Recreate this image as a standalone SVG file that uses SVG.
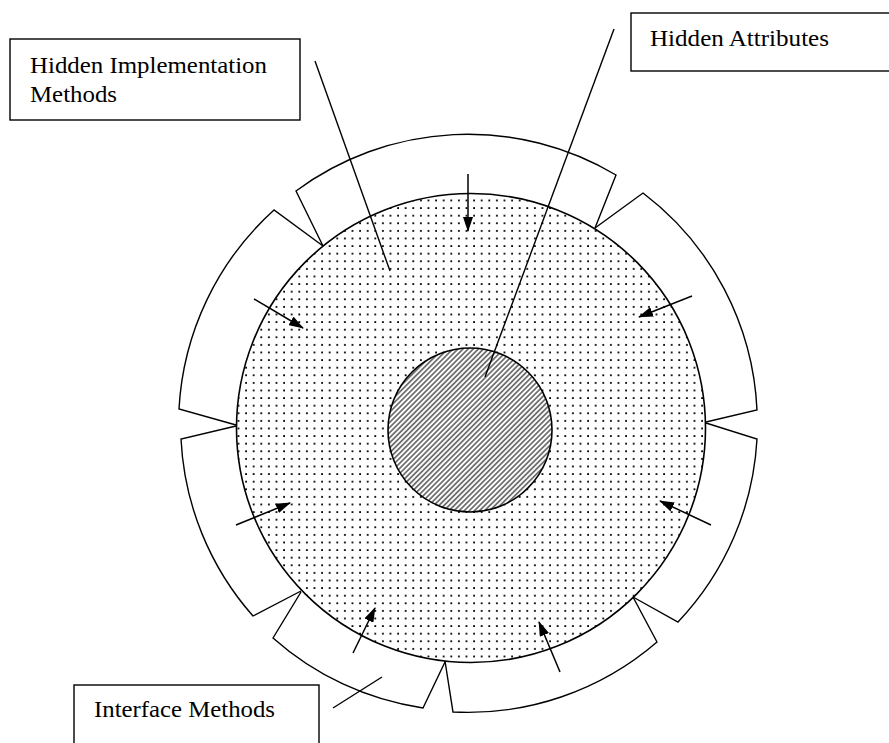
<svg xmlns="http://www.w3.org/2000/svg" width="889" height="743" viewBox="0 0 889 743">
  <style>
    .ln { fill: none; stroke: #000; stroke-width: 1.4; stroke-linejoin: miter; }
    .box { fill: #fff; stroke: #000; stroke-width: 1.4; }
    .lbl { font-family: "Liberation Serif", "Times New Roman", serif; font-size: 23.5px; fill: #000; }
    .arrow { stroke: #000; stroke-width: 1.5; fill: none; marker-end: url(#head); }
  </style>
  <defs>
    <!-- fine dot screen for the implementation ring -->
    <pattern id="dots" patternUnits="userSpaceOnUse" width="7.6" height="7.6">
      <rect x="2" y="2" width="1.8" height="1.8" fill="#000"/>
    </pattern>
    <!-- diagonal hatching for the attribute core -->
    <pattern id="hatch" patternUnits="userSpaceOnUse" width="3.6" height="3.6" patternTransform="rotate(45)">
      <rect width="3.6" height="3.6" fill="#fff"/>
      <line x1="1.8" y1="0" x2="1.8" y2="3.6" stroke="#000" stroke-width="1"/>
    </pattern>
    <marker id="head" viewBox="0 0 15 10" refX="14" refY="5" markerWidth="15" markerHeight="10" markerUnits="userSpaceOnUse" orient="auto">
      <path d="M0,0 L15,5 L0,10 Z" fill="#000"/>
    </marker>
  </defs>

  <rect width="889" height="743" fill="#fff"/>

  <!-- interface method segments around the object -->
  <g id="segments">
    <path id="seg-top" class="ln" d="M323,246 L296,191 A289,289 0 0 1 616,175 L595,228"/>
    <path id="seg-top-right" class="ln" d="M595,228 L643,193 A289,289 0 0 1 757,410 L706,422"/>
    <path id="seg-right" class="ln" d="M706,423 L757,439 A289,289 0 0 1 678,622 L633,597"/>
    <path id="seg-bottom-right" class="ln" d="M633,597 L657,642 A289,289 0 0 1 453,712 L445,661"/>
    <path id="seg-bottom-left" class="ln" d="M445,662 L423,708 A289,289 0 0 1 273,638 L301,592"/>
    <path id="seg-left-bottom" class="ln" d="M301,591 L253,616 A289,289 0 0 1 181,439 L236,426"/>
    <path id="seg-left-top" class="ln" d="M236,425 L179,409 A289,289 0 0 1 274,210 L323,246"/>
  </g>

  <!-- hidden implementation ring -->
  <g id="implementation">
    <circle cx="471" cy="428" r="234.5" fill="url(#dots)" stroke="#000" stroke-width="1.6"/>
  </g>

  <!-- hidden attribute core -->
  <g id="attributes">
    <circle cx="470" cy="430" r="82" fill="url(#hatch)" stroke="#000" stroke-width="1.6"/>
  </g>

  <!-- labels -->
  <g id="label-implementation">
    <rect class="box" x="10" y="39" width="290" height="81"/>
    <text class="lbl" x="30" y="73" textLength="237" lengthAdjust="spacingAndGlyphs">Hidden Implementation</text>
    <text class="lbl" x="30" y="102" textLength="87" lengthAdjust="spacingAndGlyphs">Methods</text>
  </g>
  <g id="label-attributes">
    <rect class="box" x="631" y="13" width="270" height="58"/>
    <text class="lbl" x="650" y="46" textLength="179" lengthAdjust="spacingAndGlyphs">Hidden Attributes</text>
  </g>
  <g id="label-interface">
    <rect class="box" x="74" y="685" width="245" height="70"/>
    <text class="lbl" x="94" y="717" textLength="181" lengthAdjust="spacingAndGlyphs">Interface Methods</text>
  </g>

  <!-- connectors -->
  <g id="connectors">
    <line class="ln" x1="315" y1="61" x2="390" y2="271"/>
    <line class="ln" x1="614" y1="29" x2="485" y2="377"/>
    <line class="ln" x1="333" y1="708" x2="382" y2="677"/>

    <line class="arrow" x1="468" y1="174" x2="468" y2="231"/>
    <line class="arrow" x1="254" y1="299" x2="303" y2="328"/>
    <line class="arrow" x1="692" y1="296" x2="639" y2="317"/>
    <line class="arrow" x1="236" y1="525" x2="290" y2="503"/>
    <line class="arrow" x1="711" y1="525" x2="660" y2="501"/>
    <line class="arrow" x1="353" y1="653" x2="375" y2="608"/>
    <line class="arrow" x1="560" y1="672" x2="539" y2="622"/>
  </g>
</svg>
